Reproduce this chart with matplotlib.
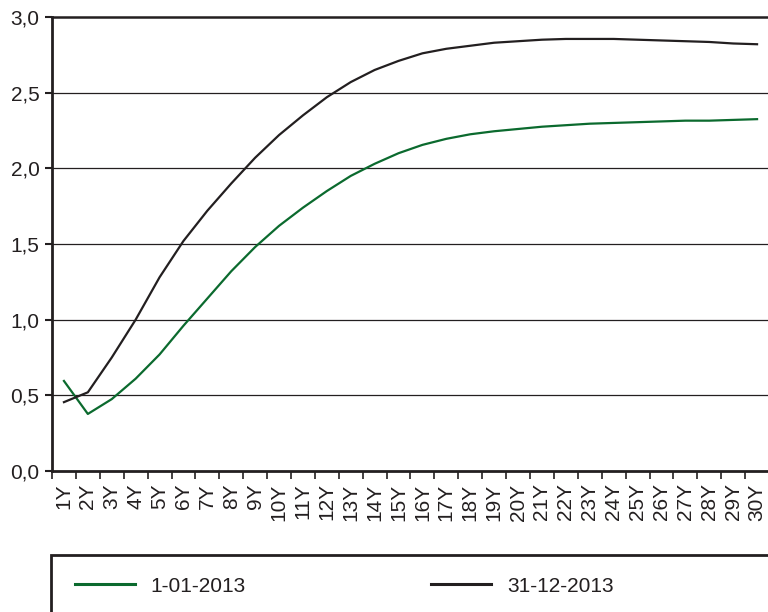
import matplotlib
matplotlib.use("Agg")
import matplotlib.pyplot as plt
from matplotlib.patches import Rectangle
from matplotlib.ticker import FixedLocator, MultipleLocator

plt.rcParams['font.family'] = ['Liberation Sans', 'DejaVu Sans']

categories = [f"{i}Y" for i in range(1, 31)]
series_names = ["1-01-2013", "31-12-2013"]
curve_2013_start = [0.595, 0.377, 0.475, 0.61, 0.77, 0.96, 1.14, 1.32, 1.48, 1.62,
                    1.74, 1.85, 1.95, 2.03, 2.10, 2.155, 2.195, 2.225, 2.245, 2.26,
                    2.275, 2.285, 2.295, 2.30, 2.305, 2.31, 2.315, 2.315, 2.32, 2.325]
curve_2013_end = [0.455, 0.52, 0.75, 1.00, 1.28, 1.52, 1.72, 1.90, 2.07, 2.22,
                  2.35, 2.47, 2.57, 2.65, 2.71, 2.76, 2.79, 2.81, 2.83, 2.84,
                  2.85, 2.855, 2.855, 2.855, 2.85, 2.845, 2.84, 2.835, 2.825, 2.82]
y_ticks = [0.0, 0.5, 1.0, 1.5, 2.0, 2.5, 3.0]
y_tick_labels = ["0,0", "0,5", "1,0", "1,5", "2,0", "2,5", "3,0"]

GREEN = "#0b6a2e"
BLACK = "#231f20"
TXT = "#231f20"

W, H = 768, 612
fig = plt.figure(figsize=(W / 100, H / 100), dpi=100)
ax = fig.add_axes([52 / W, 1 - 471 / H, 717 / W, (471 - 17) / H])

x = list(range(len(categories)))
l1, = ax.plot(x, curve_2013_start, color=GREEN, lw=1.6, solid_joinstyle='round')
l2, = ax.plot(x, curve_2013_end, color=BLACK, lw=1.6, solid_joinstyle='round')

ax.set_xlim(-0.5, len(categories) - 0.5)
ax.set_ylim(0, 3.0)
ax.set_yticks(y_ticks)
ax.set_yticklabels(y_tick_labels)
ax.set_xticks(x)
ax.set_xticklabels(categories, rotation=90)
ax.xaxis.set_minor_locator(FixedLocator([i - 0.5 for i in range(len(categories) + 1)]))

ax.tick_params(axis='x', which='major', length=0, pad=9, labelsize=15, labelcolor=TXT)
ax.tick_params(axis='x', which='minor', length=5.5, width=1.2, color=BLACK)
ax.tick_params(axis='y', which='major', length=5, width=1.5, pad=4, labelsize=15,
               labelcolor=TXT, color=BLACK)

for y in y_ticks[1:-1]:
    ax.axhline(y, color=BLACK, lw=0.9, zorder=0.5)

for s in ['left', 'bottom', 'top']:
    ax.spines[s].set_color(BLACK)
ax.spines['left'].set_linewidth(2.0)
ax.spines['bottom'].set_linewidth(2.0)
ax.spines['top'].set_linewidth(1.8)
ax.spines['right'].set_visible(False)

# legend box (extends past figure edge)
fig.add_artist(Rectangle((51 / W, -0.1), 1.0, (612 - 555) / H + 0.1,
                         transform=fig.transFigure, fill=False, lw=2.0,
                         edgecolor=BLACK))
leg = fig.legend([l1, l2], series_names, loc='center left',
                 bbox_to_anchor=(75 / W, 1 - 586 / H), ncol=2, frameon=False,
                 fontsize=15, handlelength=2.88, handletextpad=0.75,
                 columnspacing=8.9, borderpad=0, borderaxespad=0)
for t in leg.get_texts():
    t.set_color(TXT)
for h in leg.legend_handles:
    h.set_linewidth(2.2)

fig.savefig("out.png", dpi=100)
